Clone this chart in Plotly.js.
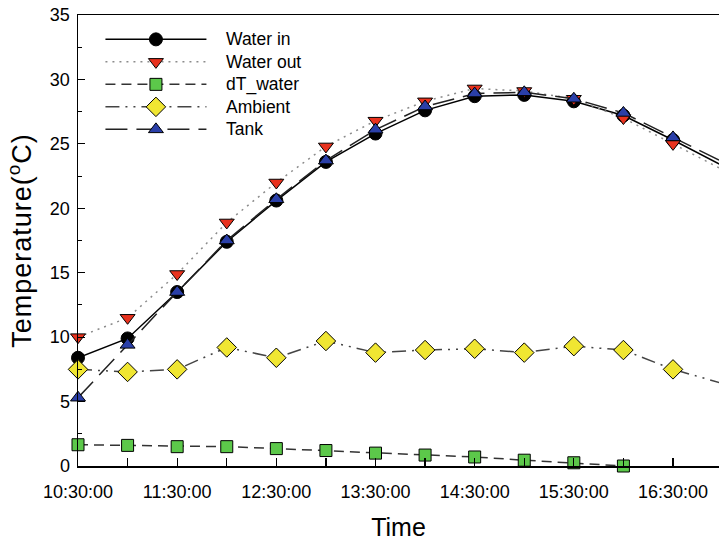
<!DOCTYPE html>
<html>
<head>
<meta charset="utf-8">
<script src="https://cdn.plot.ly/plotly-3.0.1.min.js"></script>
<style>
html,body{margin:0;padding:0;background:#fff;}
#chart{width:719px;height:541px;}
#chart .ytitle{letter-spacing:1px;}
</style>
</head>
<body>
<div id="chart"></div>
<script>
const times = ['10:30:00','11:00:00','11:30:00','12:00:00','12:30:00','13:00:00','13:30:00','14:00:00','14:30:00','15:00:00','15:30:00','16:00:00','16:30:00','17:00:00'];
const waterIn  = [8.4, 9.9, 13.5, 17.4, 20.6, 23.6, 25.8, 27.6, 28.7, 28.8, 28.3, 27.2, 25.3, 23.3];
const waterOut = [10.0, 11.5, 14.9, 18.9, 22.0, 24.8, 26.8, 28.3, 29.3, 29.1, 28.5, 27.0, 25.0, 23.0];
const dTwater  = [1.65, 1.6, 1.5, 1.5, 1.35, 1.2, 1.0, 0.85, 0.7, 0.45, 0.25, 0.0];
const ambient  = [7.5, 7.3, 7.5, 9.2, 8.4, 9.7, 8.8, 9.0, 9.1, 8.8, 9.3, 9.0, 7.5, 6.4];
const tank     = [5.3, 9.4, 13.5, 17.5, 20.7, 23.7, 26.1, 27.9, 28.9, 29.0, 28.5, 27.4, 25.5, 23.6];
const seriesNames = ['Water in', 'Water out', 'dT_water', 'Ambient', 'Tank'];

const day = '2000-01-01 ';
const xs = times.map(t => day + t);
const legName = n => '<span style="font-size:17.5px">&nbsp;&nbsp;&nbsp;' + n + '</span>';

const traces = [
  {name:legName(seriesNames[0]), x: xs, y: waterIn, mode:'lines+markers', cliponaxis:false,
   line:{color:'#000000', width:1.5},
   marker:{symbol:'circle', size:13, color:'#000000', line:{color:'#000000', width:1}}},
  {name:legName(seriesNames[1]), x: xs, y: waterOut, mode:'lines+markers', cliponaxis:false,
   line:{color:'#8c8c8c', width:1.5, dash:'2px,5px'},
   marker:{symbol:'triangle-down', size:13, color:'#e8321e', line:{color:'#000000', width:1}}},
  {name:legName(seriesNames[2]), x: xs.slice(0, dTwater.length), y: dTwater, mode:'lines+markers', cliponaxis:false,
   line:{color:'#333333', width:1.5, dash:'10px,6px'},
   marker:{symbol:'square', size:12, color:'#5cc84a', line:{color:'#000000', width:1}}},
  {name:legName(seriesNames[3]), x: xs, y: ambient, mode:'lines+markers', cliponaxis:false,
   line:{color:'#444444', width:1.5, dash:'14px,6px,2px,6px,2px,6px'},
   marker:{symbol:'diamond', size:15, color:'#f0e632', line:{color:'#000000', width:1}}},
  {name:legName(seriesNames[4]), x: xs, y: tank, mode:'lines+markers', cliponaxis:false,
   line:{color:'#222222', width:1.5, dash:'22px,9px'},
   marker:{symbol:'triangle-up', size:13, color:'#2a3fa8', line:{color:'#000000', width:1}}}
];

const layout = {
  width: 719, height: 541,
  margin: {l:78, r:0, t:15, b:75},
  paper_bgcolor:'#ffffff', plot_bgcolor:'#ffffff',
  font: {family:'Liberation Sans, Arial, sans-serif', color:'#000000', size:17},
  showlegend: true,
  legend: {x:0.035, y:0.982, xanchor:'left', yanchor:'top', bgcolor:'rgba(0,0,0,0)',
           font:{size:15}, itemwidth:101, tracegroupgap:0},
  xaxis: {
    type:'date',
    range:[day+'10:30:00', day+'16:57:50'],
    tick0: day+'10:30:00', dtick: 3600000, tickformat:'%H:%M:%S',
    ticks:'inside', ticklen:8, tickwidth:1.2, tickcolor:'#000',
    minor:{dtick:1800000, ticks:'inside', ticklen:8, tickwidth:1.2, tickcolor:'#000'},
    showline:true, linecolor:'#000', linewidth:1.5, mirror:true,
    showgrid:false, zeroline:false,
    ticklabelstandoff:9,
    tickfont:{size:18},
    title:{text:'Time', font:{size:25}, standoff:18}
  },
  yaxis: {
    range:[0,35], dtick:5, tick0:0,
    ticks:'inside', ticklen:7, tickwidth:1.2, tickcolor:'#000',
    minor:{dtick:2.5, ticks:'inside', ticklen:4, tickwidth:1, tickcolor:'#000'},
    showline:true, linecolor:'#000', linewidth:1.5,
    showgrid:false, zeroline:false,
    ticklabelstandoff:3,
    tickfont:{size:18},
    title:{text:'Temperature(<sup>o</sup>C)', font:{size:27}, standoff:10}
  }
};

Plotly.newPlot('chart', traces, layout, {displayModeBar:false, staticPlot:true});
</script>
</body>
</html>
